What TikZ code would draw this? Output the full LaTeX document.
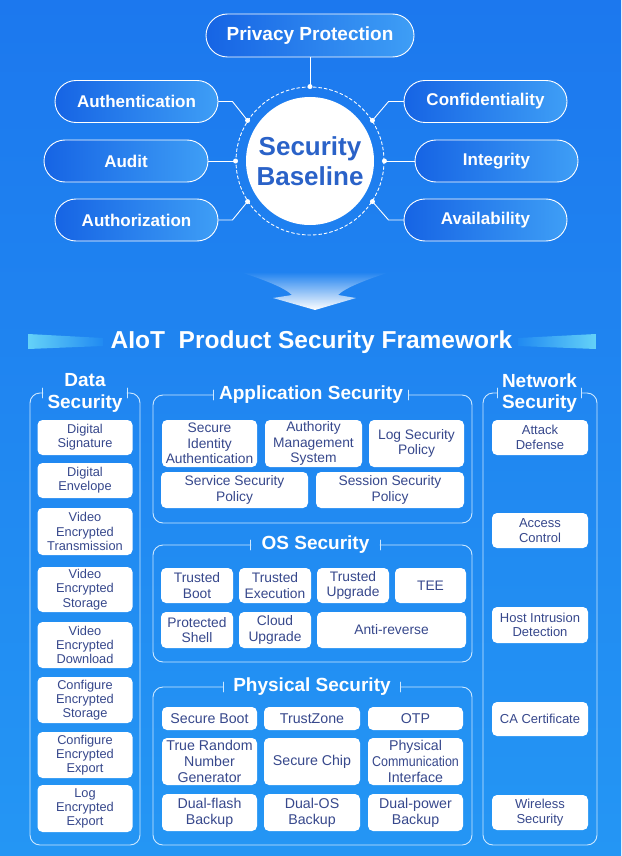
\documentclass[tikz,border=0pt]{standalone}
\usepackage{fontspec}
\setmainfont{Liberation Sans}
\usetikzlibrary{shapes.misc,fadings}

\definecolor{bgtop}{RGB}{28,120,238}
\definecolor{bgbot}{RGB}{36,150,244}
\definecolor{pilldark}{RGB}{22,100,228}
\definecolor{pilllight}{RGB}{62,158,246}
\definecolor{corebl}{RGB}{42,98,200}
\definecolor{itemtxt}{RGB}{55,72,140}
\definecolor{framecol}{RGB}{205,232,255}
\definecolor{barcyan}{RGB}{100,210,248}
\lineskiplimit=-20pt

\tikzset{
  pill/.style={rounded rectangle, draw=white, line width=0.9pt,
    left color=pilldark, right color=pilllight, text=white,
    font=\fontsize{17}{20}\selectfont\bfseries,
    minimum width=163pt, minimum height=42pt, inner sep=0pt},
  link/.style={draw=white, line width=0.9pt},
  frame/.style={draw=framecol, line width=0.9pt, rounded corners=10pt},
  sectitle/.style={text=white, align=center, inner xsep=7pt, inner ysep=0pt,
    font=\fontsize{19}{21.5}\selectfont\bfseries},
  item/.style={rounded corners=5pt, fill=white, text=itemtxt, align=center, inner sep=0pt},
  dsitem/.style={item, minimum width=95pt, font=\fontsize{12.8}{14.3}\selectfont},
  nsitem/.style={item, minimum width=96pt, font=\fontsize{13}{14.6}\selectfont},
  aitem/.style={item, font=\fontsize{13.8}{15.4}\selectfont},
  pitem/.style={item, font=\fontsize{14.2}{15.8}\selectfont}
}

\begin{document}
\begin{tikzpicture}[x=1pt, y=-1pt, line cap=round, line join=round]
  \useasboundingbox (0,0) rectangle (621,856);
  \shade[top color=bgtop, bottom color=bgbot] (0,0) rectangle (621,856);

  % security baseline
  \node[circle, draw=white, dash pattern=on 3pt off 2.5pt, line width=0.9pt,
    minimum size=148pt, inner sep=0pt] (ring) at (310,161) {};
  \node[circle, fill=white, minimum size=128pt, inner sep=0pt, text=corebl, align=center,
    font=\fontsize{26}{29.5}\selectfont\bfseries] (core) at (310,161) {Security\\Baseline};

  \node[pill, minimum width=208pt, minimum height=43pt,
    font=\fontsize{19}{22}\selectfont\bfseries] (priv) at (310,35.5) {Privacy Protection};
  \node[pill] (auth) at (136.5,101.5) {Authentication};
  \node[pill, minimum width=164pt] (audit) at (126,161) {Audit};
  \node[pill] (authz) at (136.5,220) {Authorization};
  \node[pill] (conf) at (485.5,101.5) {Confidentiality};
  \node[pill] (integ) at (496.5,161) {Integrity};
  \node[pill] (avail) at (485.5,220) {Availability};

  \draw[link] (priv.south) -- (ring.north);
  \draw[link] (auth.east) -- ++(14,0) -- (ring.147);
  \draw[link] (audit.east) -- (ring.west);
  \draw[link] (authz.east) -- ++(14,0) -- (ring.213);
  \draw[link] (conf.west) -- ++(-15,0) -- (ring.33);
  \draw[link] (integ.west) -- (ring.east);
  \draw[link] (avail.west) -- ++(-15,0) -- (ring.327);
  \foreach \a in {north,west,east,33,147,213,327}
    \fill[white] (ring.\a) circle (2.5pt);

  % arrow down
  \fill[white, path fading=north]
    (240,272) .. controls (265,280) and (285,288) .. (292,295) -- (273,298) -- (315,310)
    -- (356,298) -- (338,295) .. controls (345,288) and (365,280) .. (390,272) -- cycle;

  % framework title
  \shade[left color=barcyan, right color=bgtop!40!bgbot]
    (28,334) -- (103,338) -- (103,346) -- (28,349) -- cycle;
  \shade[left color=bgtop!40!bgbot, right color=barcyan]
    (518,338) -- (596,334) -- (596,349) -- (518,346) -- cycle;
  \node[text=white, font=\fontsize{24.5}{28}\selectfont\bfseries] (fw) at (311.5,342)
    {AIoT\ \ Product Security Framework};

  % data security
  \node[sectitle, inner xsep=4.5pt] (dsT) at (85,393) {Data\\Security};
  \draw[frame] (dsT.west) -| (30,845) -| (140,393) -- (dsT.east);
  \draw[frame] ([yshift=5pt]dsT.west) -- ([yshift=-5pt]dsT.west);
  \draw[frame] ([yshift=5pt]dsT.east) -- ([yshift=-5pt]dsT.east);
  \node[dsitem, minimum height=35pt] (ds1) at (85,437.5) {Digital\\Signature};
  \node[dsitem, minimum height=35pt] (ds2) at (85,480.5) {Digital\\Envelope};
  \node[dsitem, minimum height=47pt] (ds3) at (85,531.5) {Video\\Encrypted\\Transmission};
  \node[dsitem, minimum height=45pt] (ds4) at (85,589.5) {Video\\Encrypted\\Storage};
  \node[dsitem, minimum height=46pt] (ds5) at (85,645) {Video\\Encrypted\\Download};
  \node[dsitem, minimum height=46pt] (ds6) at (85,700) {Configure\\Encrypted\\Storage};
  \node[dsitem, minimum height=46pt] (ds7) at (85,755) {Configure\\Encrypted\\Export};
  \node[dsitem, minimum height=47pt] (ds8) at (85,808.5) {Log\\Encrypted\\Export};

  % application security
  \node[sectitle, inner xsep=5.5pt] (asT) at (311,395) {Application Security};
  \draw[frame] (asT.west) -| (153,523) -| (472,395) -- (asT.east);
  \draw[frame] ([yshift=5pt]asT.west) -- ([yshift=-5pt]asT.west);
  \draw[frame] ([yshift=5pt]asT.east) -- ([yshift=-5pt]asT.east);
  \node[aitem, minimum width=95pt, minimum height=47pt] (as1) at (209.5,443.5) {Secure\\Identity\\Authentication};
  \node[aitem, minimum width=97pt, minimum height=47pt] (as2) at (313.5,443.5) {Authority\\Management\\System};
  \node[aitem, minimum width=95pt, minimum height=47pt] (as3) at (416.5,443.5) {Log Security\\Policy};
  \node[aitem, minimum width=147pt, minimum height=36pt] (as4) at (234.5,490) {Service Security\\Policy};
  \node[aitem, minimum width=148pt, minimum height=36pt] (as5) at (390,490) {Session Security\\Policy};

  % os security
  \node[sectitle, inner xsep=10.5pt] (osT) at (315.5,545) {OS Security};
  \draw[frame] (osT.west) -| (153,662) -| (472,545) -- (osT.east);
  \draw[frame] ([yshift=5pt]osT.west) -- ([yshift=-5pt]osT.west);
  \draw[frame] ([yshift=5pt]osT.east) -- ([yshift=-5pt]osT.east);
  \node[aitem, minimum width=72pt, minimum height=35pt] (os1) at (197,585.5) {Trusted\\Boot};
  \node[aitem, minimum width=72pt, minimum height=35pt] (os2) at (275,585.5) {Trusted\\Execution};
  \node[aitem, minimum width=72pt, minimum height=35pt] (os3) at (353,585.5) {Trusted\\Upgrade};
  \node[aitem, minimum width=71pt, minimum height=35pt] (os4) at (430.5,585.5) {TEE};
  \node[aitem, minimum width=72pt, minimum height=36pt] (os5) at (197,630) {Protected\\Shell};
  \node[aitem, minimum width=72pt, minimum height=36pt] (os6) at (275,630) {Cloud\\Upgrade};
  \node[aitem, minimum width=149pt, minimum height=36pt] (os7) at (391.5,630) {Anti-reverse};

  % physical security
  \node[sectitle, inner xsep=9.5pt] (psT) at (312,687) {Physical Security};
  \draw[frame] (psT.west) -| (153,845) -| (472,687) -- (psT.east);
  \draw[frame] ([yshift=5pt]psT.west) -- ([yshift=-5pt]psT.west);
  \draw[frame] ([yshift=5pt]psT.east) -- ([yshift=-5pt]psT.east);
  \node[pitem, minimum width=95pt, minimum height=23pt] (ps1) at (209.5,718.5) {Secure Boot};
  \node[pitem, minimum width=96pt, minimum height=23pt] (ps2) at (312,718.5) {TrustZone};
  \node[pitem, minimum width=95pt, minimum height=23pt] (ps3) at (415.5,718.5) {OTP};
  \node[pitem, minimum width=95pt, minimum height=47pt] (ps4) at (209.5,761.5) {True Random\\Number\\Generator};
  \node[pitem, minimum width=96pt, minimum height=47pt] (ps5) at (312,761.5) {Secure Chip};
  \node[pitem, minimum width=95pt, minimum height=47pt] (ps6) at (415.5,761.5)
    {Physical\\\scalebox{0.88}[1]{Communication}\\Interface};
  \node[pitem, minimum width=95pt, minimum height=37pt] (ps7) at (209.5,812.5) {Dual-flash\\Backup};
  \node[pitem, minimum width=96pt, minimum height=37pt] (ps8) at (312,812.5) {Dual-OS\\Backup};
  \node[pitem, minimum width=95pt, minimum height=37pt] (ps9) at (415.5,812.5) {Dual-power\\Backup};

  % network security
  \node[sectitle, inner xsep=4.5pt] (nsT) at (539.5,393) {Network\\Security};
  \draw[frame] (nsT.west) -| (483,845) -| (597,393) -- (nsT.east);
  \draw[frame] ([yshift=5pt]nsT.west) -- ([yshift=-5pt]nsT.west);
  \draw[frame] ([yshift=5pt]nsT.east) -- ([yshift=-5pt]nsT.east);
  \node[nsitem, minimum height=35pt] (ns1) at (540,437.5) {Attack\\Defense};
  \node[nsitem, minimum height=35pt] (ns2) at (540,530.5) {Access\\Control};
  \node[nsitem, minimum height=36pt] (ns3) at (540,625) {Host Intrusion\\Detection};
  \node[nsitem, minimum height=34pt] (ns4) at (540,719) {CA Certificate};
  \node[nsitem, minimum height=35pt] (ns5) at (540,812.5) {Wireless\\Security};
\end{tikzpicture}
\end{document}
